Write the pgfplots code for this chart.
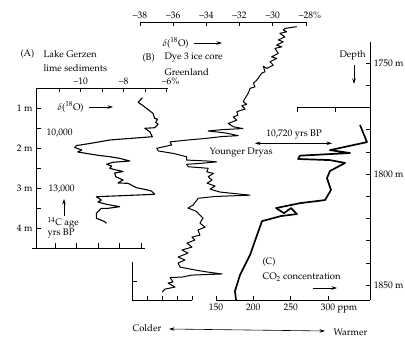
\documentclass[border=0pt]{standalone}
\usepackage[T1]{fontenc}
\usepackage{mathpazo}
\usepackage{pgfplots}
\pgfplotsset{compat=1.18}
\usetikzlibrary{arrows.meta}
\newcommand{\fs}{\fontsize{9.5}{11}\selectfont}
\begin{document}
\begin{tikzpicture}[font=\fs, >={Stealth[length=5.5pt,width=3.5pt]}]
\path[use as bounding box] (0pt,0pt) rectangle (405pt,339pt);
\pgfplotsset{
  every axis/.append style={
    scale only axis, clip=false, y dir=reverse,
    tick align=inside, major tick length=4.5pt, minor tick length=4.5pt,
    every tick/.style={black, line width=0.7pt},
    axis line style={line width=0.8pt, -},
    ticklabel style={font=\fs},
    /pgf/number format/assume math mode=true,
  },
  every axis plot/.append style={black, line join=round, mark=none},
}
% ---------------- Panel A : Lake Gerzen ----------------
\begin{axis}[
  at={(36pt,251pt)}, anchor=north west,
  x=21.5pt, y=40pt, xmin=-12.08, xmax=-5.95, ymin=0.5, ymax=4.5,
  axis x line*=top, axis y line*=left,
  xtick={-10,-8,-6}, xticklabels={--10,--8,--6\rlap{\%}},
  minor xtick={-11,-9,-7},
  ytick={1,2,3,4}, yticklabels={1 m,2 m,3 m,4 m},
  minor ytick={1.5,2.5,3.5},
]
\addplot[line width=1.1pt] coordinates {
(-7.13,0.743) (-7.33,0.858) (-7.10,0.943) (-6.64,1.133) (-6.56,1.258) (-6.43,1.283)
(-6.51,1.358) (-6.40,1.408) (-6.56,1.493) (-7.02,1.508) (-6.79,1.593) (-6.67,1.718)
(-8.65,1.80) (-9.58,1.888) (-10.19,1.938) (-10.28,1.988) (-9.95,2.05) (-10.14,2.10)
(-9.58,2.15) (-9.12,2.188) (-8.65,2.218) (-8.19,2.258) (-7.72,2.325) (-8.51,2.358)
(-8.80,2.408) (-8.56,2.45) (-8.65,2.508) (-8.34,2.55) (-8.03,2.588) (-8.42,2.625)
(-8.37,2.718) (-8.03,2.80) (-8.27,2.875) (-7.80,2.883) (-7.41,2.993) (-7.10,3.025)
(-6.71,3.075) (-6.56,3.158) (-9.27,3.218) (-9.04,3.30) (-9.20,3.35) (-8.80,3.408)
(-8.19,3.468) (-8.73,3.508) (-9.04,3.508) (-9.27,3.633) (-9.27,3.758) (-8.88,3.843)
(-8.80,3.883)
};
\draw[line width=0.8pt] (axis cs:-12.25,4.5) -- (axis cs:-7,4.5);
\pgfplotsinvokeforeach{-11.2,-10.2,-9.2,-8.2,-7.2}{
  \draw[line width=0.7pt] (axis cs:#1,4.5) -- ++(0pt,4.5pt);
}
\end{axis}
% ---------------- Panel B : Dye 3 ice core ----------------
\begin{axis}[
  at={(140pt,317pt)}, anchor=north west,
  x=16.6pt, y=2.22pt, xmin=-38, xmax=-28, ymin=1731.5, ymax=1856.8,
  axis x line*=top, axis y line=none,
  xtick={-38,-36,-34,-32,-30,-28},
  xticklabels={--38,--36,--34,--32,--30,--28\rlap{\%}},
  ytick=\empty,
]
\addplot[line width=1.0pt] coordinates {
(-28.56,1733.6) (-29.27,1734.4) (-29.37,1735.1) (-29.16,1735.9) (-29.57,1736.6)
(-29.27,1738.2) (-29.67,1739.6) (-29.37,1740.4) (-29.77,1741.9) (-29.46,1742.7)
(-29.87,1743.4) (-29.67,1745.6) (-30.07,1747.2) (-29.77,1747.9) (-30.17,1749.4)
(-29.97,1750.9) (-30.37,1752.4) (-30.57,1751.4) (-30.47,1753.9) (-30.67,1754.6)
(-30.97,1757.7) (-31.17,1759.1) (-31.07,1760.7) (-31.37,1761.4) (-31.48,1763.6)
(-31.67,1765.9) (-31.78,1767.4) (-31.57,1768.6) (-31.87,1769.2) (-31.67,1770.7)
(-32.17,1771.9) (-32.10,1773.4) (-32.38,1774.3) (-32.17,1775.7) (-32.68,1777.2)
(-32.38,1778.7) (-31.80,1779.5) (-33.08,1780.0) (-33.89,1780.6) (-32.82,1781.5)
(-32.08,1782.7) (-33.06,1783.1) (-33.98,1783.9) (-35.19,1784.7) (-36.19,1785.5)
(-36.09,1786.9) (-36.99,1788.4) (-36.90,1789.6) (-35.99,1790.7) (-35.19,1792.2)
(-35.19,1793.7) (-33.98,1794.1) (-33.38,1794.5) (-34.39,1795.2) (-35.19,1795.6)
(-35.09,1796.7) (-33.89,1797.4) (-33.98,1799.0) (-33.58,1799.7) (-33.89,1801.2)
(-33.66,1802.7) (-33.96,1804.1) (-33.48,1805.4) (-33.78,1806.8) (-33.18,1808.1)
(-31.37,1809.5) (-33.48,1810.1) (-34.49,1810.9) (-34.81,1814.0) (-35.11,1815.3)
(-34.63,1816.7) (-34.39,1818.5) (-34.20,1819.8) (-34.39,1822.1) (-34.08,1823.9)
(-34.51,1825.2) (-34.39,1827.5) (-34.87,1828.4) (-34.69,1829.7) (-35.17,1831.1)
(-34.87,1832.9) (-35.47,1834.2) (-35.11,1835.6) (-35.71,1837.4) (-35.29,1838.7)
(-35.71,1840.1) (-35.59,1841.9) (-34.69,1843.2) (-33.96,1844.1) (-33.06,1845.0)
(-34.87,1845.5) (-35.47,1846.4) (-36.19,1846.6) (-36.01,1848.6) (-36.31,1849.1)
(-35.89,1850.9) (-36.49,1851.8) (-36.67,1853.2)
};
\draw[line width=0.8pt] (axis cs:-38.45,1839.6) -- (axis cs:-38.45,1856.8) -- (axis cs:-34.85,1856.8);
\draw[line width=0.7pt] (axis cs:-38.45,1848.2) -- ++(4.5pt,0pt);
\pgfplotsinvokeforeach{-37.55,-36.65,-35.75,-34.85}{
  \draw[line width=0.7pt] (axis cs:#1,1856.8) -- ++(0pt,4.5pt);
}
\end{axis}
% ---------------- Panel C : CO2 ----------------
\begin{axis}[
  at={(216pt,297pt)}, anchor=north west,
  x=0.747pt, y=2.22pt, xmin=150, xmax=356.5, ymin=1740.5, ymax=1856.8,
  axis x line*=bottom, axis y line*=right,
  xtick={150,200,250,300}, xticklabels={150,200,250,300\rlap{ ppm}},
  ytick={1750,1760,...,1850},
  yticklabels={1750 m,,,,,1800 m,,,,,1850 m},
]
\addplot[line width=1.7pt] coordinates {
(342.8,1777.9) (352.1,1785.6) (302.6,1789.2) (329.4,1790.5) (262.4,1791.7)
(259.8,1793.2) (302.6,1793.7) (322.7,1795.0) (302.6,1798.6) (298.6,1801.8)
(303.9,1807.2) (295.9,1811.7) (262.4,1813.1) (230.3,1815.3) (241.0,1817.6)
(250.4,1815.3) (258.4,1818.0) (237.0,1818.9) (211.6,1821.2) (204.9,1827.5)
(195.5,1836.5) (182.1,1845.5) (175.4,1852.7) (176.8,1856.8)
};
\draw[line width=0.8pt] (axis cs:258.4,1769.8) -- (axis cs:356.5,1769.8);
\draw[line width=0.7pt] (axis cs:258.4,1769.8) -- ++(0pt,-4.5pt);
\draw[line width=0.7pt] (axis cs:309.3,1769.8) -- ++(0pt,-4.5pt);
\end{axis}
% ---------------- annotations ----------------
\node[anchor=west] at (17pt,285pt) {(A)};
\node[anchor=west] at (40pt,285pt) {Lake Gerzen};
\node[anchor=west] at (40pt,271pt) {lime sediments};
\node[anchor=west] at (139pt,281pt) {(B)};
\node[anchor=west] at (161pt,281pt) {Dye 3 ice core};
\node[anchor=west] at (161pt,267pt) {Greenland};
\node[anchor=west] at (159pt,296pt) {$\delta$(\textsuperscript{18}O)};
\draw[->, line width=0.6pt] (194pt,296pt) -- (222pt,296pt);
\node[anchor=west] at (54pt,232pt) {$\delta$(\textsuperscript{18}O)};
\draw[->, line width=0.6pt] (89pt,232pt) -- (113pt,232pt);
\node[anchor=west] at (43pt,206pt) {10,000};
\node[anchor=west] at (45pt,150pt) {13,000};
\draw[->, line width=0.6pt] (64pt,123pt) -- (64pt,140pt);
\node[anchor=west] at (44pt,116pt) {\textsuperscript{14}C age};
\node[anchor=west] at (44pt,105pt) {yrs BP};
\node[anchor=west] at (336pt,284pt) {Depth};
\draw[->, line width=0.6pt] (354pt,274pt) -- (354pt,255pt);
\node at (294pt,204pt) {10,720 yrs BP};
\draw[<->, line width=0.6pt] (255pt,195.7pt) -- (332pt,195.7pt);
\node[anchor=west] at (206pt,186pt) {Younger Dryas};
\node[anchor=west] at (259pt,77pt) {(C)};
\node[anchor=west] at (259pt,62pt) {CO\textsubscript{2} concentration};
\draw[->, line width=0.6pt] (313pt,51pt) -- (337pt,51pt);
\node[anchor=west] at (129pt,11pt) {Colder};
\draw[<->, line width=0.6pt] (169pt,10pt) -- (325pt,8pt);
\node[anchor=west] at (330pt,6.5pt) {Warmer};
\end{tikzpicture}
\end{document}
